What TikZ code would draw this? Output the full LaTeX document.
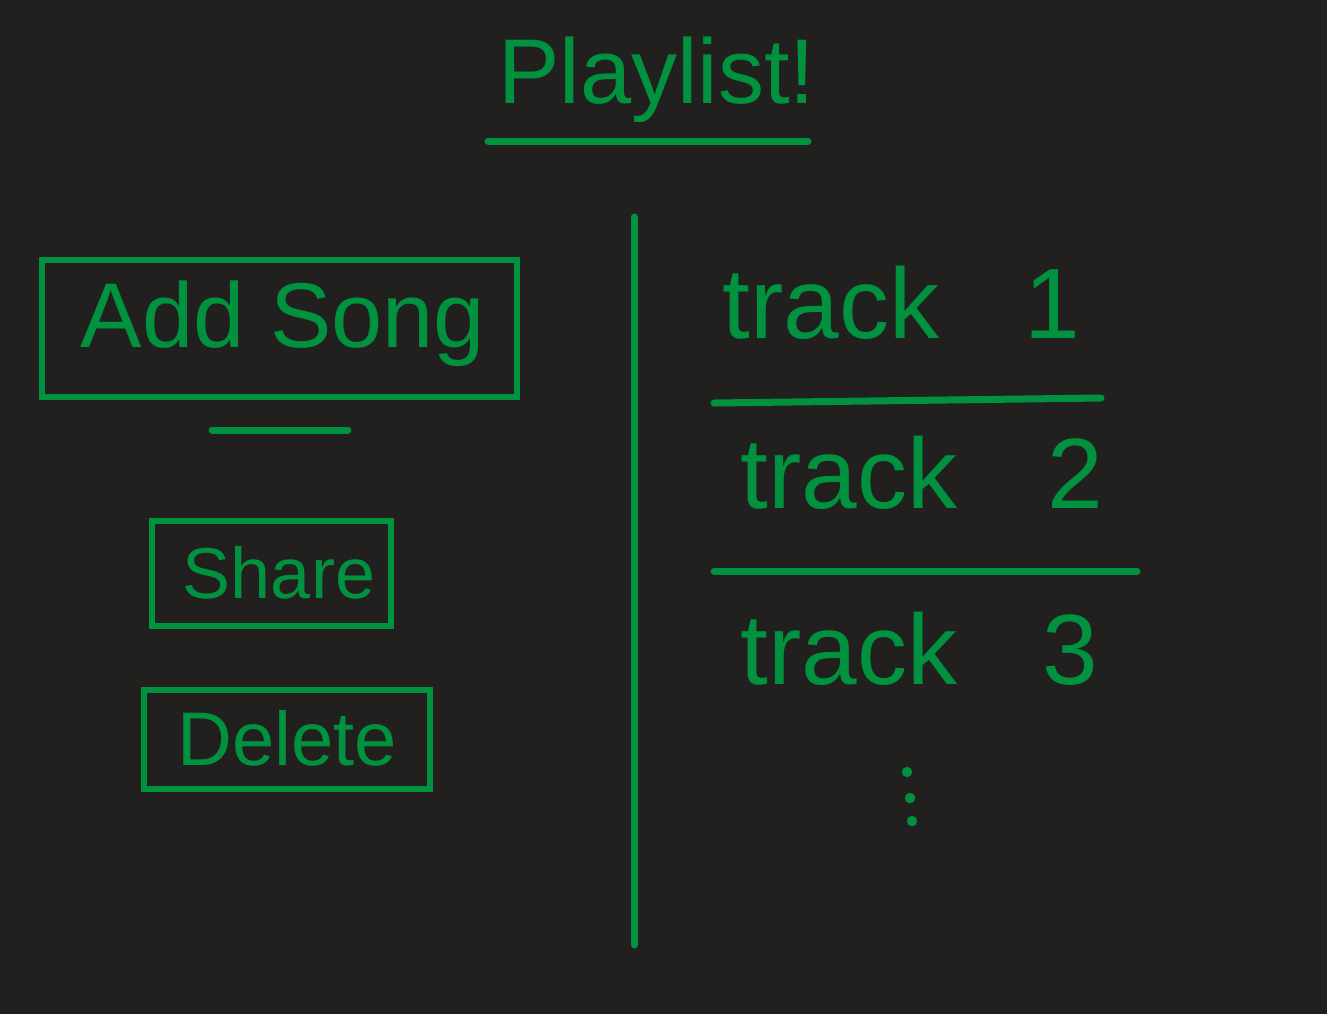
\documentclass[tikz,border=0pt]{standalone}
\usepackage{fontspec}
\setmainfont{Liberation Sans}
\definecolor{board}{RGB}{33,32,31}
\definecolor{chalk}{RGB}{0,146,63}
\begin{document}
\begin{tikzpicture}[x=0.5pt, y=-0.5pt, line cap=round,
  pen/.style={chalk, line width=3.5pt},
  btn/.style={draw=chalk, line width=3pt, inner sep=0pt},
  word/.style={chalk, inner sep=0pt}]
\fill[board] (0,0) rectangle (1327,1014);
\useasboundingbox (0,0) rectangle (1327,1014);
% title
\node[word, font=\fontsize{46}{50}\selectfont] (title) at (657,80) {Playlist!};
\draw[pen] (488,141) -- (808,141);
% divider
\draw[pen] (634,217) -- (634,945);
% buttons on the left
\node[btn, minimum width=237.5pt, minimum height=68.5pt] (addbox) at (279.5,328.5) {};
\node[word, font=\fontsize{46}{50}\selectfont] (add) at (283,324) {Add Song};
\draw[pen] (212,430) -- (348,430);
\node[btn, minimum width=119.5pt, minimum height=52.5pt] (sharebox) at (271.5,573.5) {};
\node[word, font=\fontsize{36}{40}\selectfont] (share) at (279,573) {Share};
\node[btn, minimum width=143pt, minimum height=49.5pt] (delbox) at (287,739.5) {};
\node[word, font=\fontsize{38}{42}\selectfont] (delete) at (287,738) {Delete};
% track list
\node[word, anchor=base west, font=\fontsize{50}{54}\selectfont] (track1) at (722,338) {track\hspace{0.85em}1};
\draw[pen] (714,403) -- (1101,398);
\node[word, anchor=base west, font=\fontsize{50}{54}\selectfont] (track2) at (740,508) {track\hspace{0.9em}2};
\draw[pen] (714,571) -- (1137,571);
\node[word, anchor=base west, font=\fontsize{50}{54}\selectfont] (track3) at (740,684) {track\hspace{0.85em}3};
\foreach \y/\x in {772/907, 798/910, 821/912}
  \fill[chalk] (\x,\y) circle (2.6pt);
\end{tikzpicture}
\end{document}
